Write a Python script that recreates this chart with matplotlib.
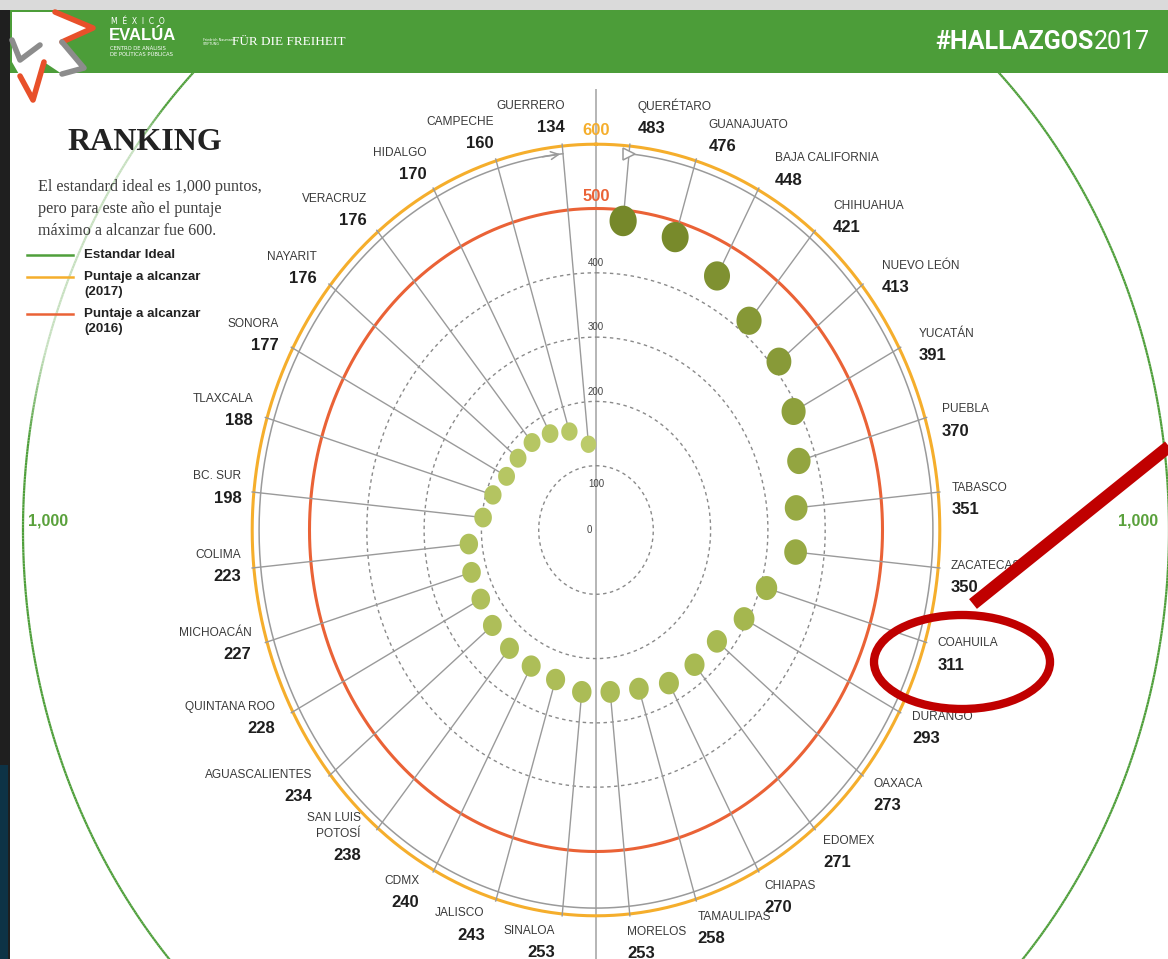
import numpy as np
import matplotlib
matplotlib.use('Agg')
import matplotlib.pyplot as plt
from matplotlib.path import Path
from matplotlib.patches import Ellipse, Polygon, Rectangle
from matplotlib.collections import LineCollection
from matplotlib.colors import LinearSegmentedColormap, to_rgb

# ---- data ----
states = ['QUERÉTARO', 'GUANAJUATO', 'BAJA CALIFORNIA', 'CHIHUAHUA', 'NUEVO LEÓN',
          'YUCATÁN', 'PUEBLA', 'TABASCO', 'ZACATECAS', 'COAHUILA', 'DURANGO',
          'OAXACA', 'EDOMEX', 'CHIAPAS', 'TAMAULIPAS', 'MORELOS', 'SINALOA',
          'JALISCO', 'CDMX', 'SAN LUIS\nPOTOSÍ', 'AGUASCALIENTES', 'QUINTANA ROO',
          'MICHOACÁN', 'COLIMA', 'BC. SUR', 'TLAXCALA', 'SONORA', 'NAYARIT',
          'VERACRUZ', 'HIDALGO', 'CAMPECHE', 'GUERRERO']
scores = [483, 476, 448, 421, 413, 391, 370, 351, 350, 311, 293, 273, 271, 270,
          258, 253, 253, 243, 240, 238, 234, 228, 227, 223, 198, 188, 177, 176,
          176, 170, 160, 134]
grid_levels = [100, 200, 300, 400]
target_2016 = 500
target_2017 = 600
ideal = 1000

# ---- figure geometry (pixels) ----
W, H = 1168, 959
cx, cy = 596, 530          # centre of the radial chart
rx, ry = 573, 643          # pixel radius of the 1,000 ring (image is squashed)

GREEN = '#4f9f3b'
ORANGE = '#f5ae2c'
RED = '#ea6236'
GRAY = '#9a9a9a'
SANS = ['Liberation Sans', 'DejaVu Sans']

fig = plt.figure(figsize=(W / 100, H / 100), dpi=100)
fig.patch.set_facecolor('white')

# polar axes, stretched into an ellipse like the original infographic
ax = fig.add_axes([(cx - rx) / W, (H - cy - ry) / H, 2 * rx / W, 2 * ry / H],
                  projection='polar', zorder=1)
ax.set_theta_zero_location('N')
ax.set_theta_direction(-1)
ax.set_ylim(0, ideal)
ax.set_aspect('auto')
ax.axis('off')

n = len(states)
theta = np.deg2rad((np.arange(n) + 0.5) * 360.0 / n)
full = np.linspace(0, 2 * np.pi, 721)

# 1,000 ring: green, faded on the upper-left part
deg = np.linspace(0, 360, 1441)
fade = np.clip(np.minimum((deg - 278) / 8.0, (311 - deg) / 5.0), 0, 1) * 0.68
g = np.array(to_rgb(GREEN))
cols = [tuple(g * (1 - f) + np.ones(3) * f) for f in fade[:-1]]
t = np.deg2rad(deg)
segs = [[(t[i], ideal), (t[i + 1], ideal)] for i in range(len(t) - 1)]
ax.add_collection(LineCollection(segs, colors=cols, linewidths=1.6, clip_on=False))

# central vertical axis
ax.plot([0, 0], [0, 684], color='#b5b5b5', lw=1.4, zorder=1)
ax.plot([np.pi, np.pi], [0, 720], color='#b5b5b5', lw=1.4, zorder=1, clip_on=False)

# dashed grid rings
for lvl in grid_levels:
    ax.plot(full, [lvl] * len(full), color='#8a8a8a', lw=1.0, ls=(0, (2.5, 2.5)), zorder=2)
    r_lab = lvl + 15 if lvl > 100 else 72
    ax.text(0, r_lab, str(lvl), ha='center', va='center', fontsize=7,
            color='#444444', family=SANS, zorder=3)
ax.annotate('0', xy=(0, 0), xytext=(-5, 0), textcoords='offset points',
            ha='center', va='center', fontsize=7, color='#444444', family=SANS)

# target rings
ax.plot(full, [target_2016] * len(full), color=RED, lw=2.2, zorder=2)
ax.plot(full, [target_2017] * len(full), color=ORANGE, lw=2.2, zorder=2)
ax.text(0, target_2016 + 18, str(target_2016), ha='center', va='center', fontsize=12,
        fontweight='bold', color=RED, family=SANS, zorder=4)
ax.text(0, target_2017 + 22, str(target_2017), ha='center', va='center', fontsize=12,
        fontweight='bold', color=ORANGE, family=SANS, zorder=4)

# ranking direction arc just inside the 600 ring
arc_r = 588
arc_t = np.linspace(theta[0], theta[-1], 600)
ax.plot(arc_t, [arc_r] * len(arc_t), color=GRAY, lw=1.1, zorder=2)
ax.plot([theta[0]], [arc_r], marker='>', ms=8, mfc='white', mec=GRAY, mew=1.1, zorder=3)
ax.annotate('', xy=(theta[-1], arc_r), xytext=(theta[-1] - np.deg2rad(4), arc_r),
            arrowprops=dict(arrowstyle='->', color=GRAY, lw=1.1, mutation_scale=14),
            zorder=3)

# spokes
for th, v in zip(theta, scores):
    ax.plot([th, th], [v, 603], color=GRAY, lw=1.0, zorder=2, clip_on=False)

# dots (slightly taller than wide, as in the squashed original)
ang = np.linspace(0, 2 * np.pi, 65)
dot_marker = Path(np.column_stack([0.89 * np.cos(ang), np.sin(ang)]), closed=True)
vmin, vmax = min(scores), max(scores)
frac = (np.array(scores) - vmin) / (vmax - vmin)
cmap = LinearSegmentedColormap.from_list('olive', ['#bccb6a', '#a3b54c', '#76882a'])
diam = 12.5 + frac * 9.5
ax.scatter(theta, scores, s=diam ** 2, c=cmap(frac), marker=dot_marker,
           edgecolors='none', zorder=5)

# state labels
for th, name, v in zip(theta, states, scores):
    t_lab = th + np.deg2rad(0.8)
    c = np.cos(th)
    r_lab = 620 + (28 if c > 0 else 21) * abs(c)
    ha = 'left' if th < np.pi else 'right'
    ax.annotate(name, xy=(t_lab, r_lab), xytext=(0, 2), textcoords='offset points',
                ha=ha, va='bottom', multialignment=ha, fontsize=8.6, color='#3a3a3a',
                family=SANS, linespacing=1.45, annotation_clip=False)
    ax.annotate(str(v), xy=(t_lab, r_lab), xytext=(0, -12.5), textcoords='offset points',
                ha=ha, va='baseline', fontsize=12, fontweight='bold', color='#1e1e1e',
                family=SANS, annotation_clip=False)

# ---- overlay: header, legend, annotation ----
ov = fig.add_axes([0, 0, 1, 1], zorder=3)
ov.set_xlim(0, W)
ov.set_ylim(H, 0)
ov.axis('off')
ov.patch.set_alpha(0)

ov.add_patch(Rectangle((0, 0), W, 10, color='#dadada', lw=0))
ov.add_patch(Rectangle((0, 10), W, 63, color='#4c9d39', lw=0))
ov.add_patch(Rectangle((0, 10), 10, H, color='#1f1f1f', lw=0))
ov.add_patch(Rectangle((0, 765), 8, H, color='#0d3346', lw=0))

# logo star
star = [(12, 12), (58, 12), (93, 28), (62, 42), (84, 68), (62, 74), (44, 62),
        (33, 100), (20, 76), (12, 62)]
ov.add_patch(Polygon(star, closed=True, facecolor='white', edgecolor='none'))
ov.plot([55, 93, 62], [12, 28, 42], color='#e8502a', lw=4, solid_capstyle='round')
ov.plot([62, 84, 62], [42, 68, 74], color='#8c8c8c', lw=4, solid_capstyle='round')
ov.plot([44, 33, 20], [62, 100, 76], color='#e8502a', lw=4, solid_capstyle='round')
ov.plot([12, 20, 40], [40, 60, 45], color='#8c8c8c', lw=4, solid_capstyle='round')

ov.text(111, 21, 'M  É  X  I  C  O', fontsize=5.5, color='white', va='center')
ov.text(109, 36, 'EVALÚA', fontsize=12, fontweight='bold', color='white', va='center',
        family=SANS)
ov.text(110, 49, 'CENTRO DE ANÁLISIS', fontsize=3.8, color='white', va='center')
ov.text(110, 55, 'DE POLÍTICAS PÚBLICAS', fontsize=3.8, color='white', va='center')
ov.text(203, 42, 'Friedrich Naumann\nSTIFTUNG', fontsize=2.4, color='white', va='center',
        linespacing=1.0)
ov.text(232, 42, 'FÜR DIE FREIHEIT', fontsize=9.5, color='white', va='center',
        family='Liberation Serif')
ov.text(1150, 42, '2017', fontsize=18, color='white', va='center', ha='right',
        family=['Roboto', 'DejaVu Sans'])
ov.text(1094, 42, '#HALLAZGOS', fontsize=18, fontweight='bold', color='white',
        va='center', ha='right', family=['Roboto', 'DejaVu Sans'])

# title and explanation
ov.text(67, 143, 'RANKING', fontsize=23, fontweight='bold', color='#222222',
        va='center', family='Liberation Serif')
ov.text(38, 179, 'El estandard ideal es 1,000 puntos,\npero para este año el puntaje\n'
        'máximo a alcanzar fue 600.', fontsize=11.6, color='#3d3d3d', va='top',
        family='Liberation Serif', linespacing=1.5)

legend_items = [(GREEN, 'Estandar Ideal', 255),
                (ORANGE, 'Puntaje a alcanzar\n(2017)', 277),
                (RED, 'Puntaje a alcanzar\n(2016)', 314)]
for color, label, y in legend_items:
    ov.plot([27, 73], [y, y], color=color, lw=1.8)
    ov.text(84, y - 6, label, fontsize=9.6, fontweight='bold', color='#222222',
            va='top', family=SANS, linespacing=1.35)

# 1,000 labels
for x in (48, 1138):
    ov.text(x, 521, '1,000', fontsize=11.5, fontweight='bold', color='#5aa13c',
            ha='center', va='center', family=SANS)

# red highlight annotation
ov.plot([973, 1172], [604, 444], color='#c00000', lw=9, solid_capstyle='butt')
ov.add_patch(Ellipse((962, 662), 176, 94, facecolor='none', edgecolor='#c00000', lw=6))

fig.savefig('out.png', dpi=100)
